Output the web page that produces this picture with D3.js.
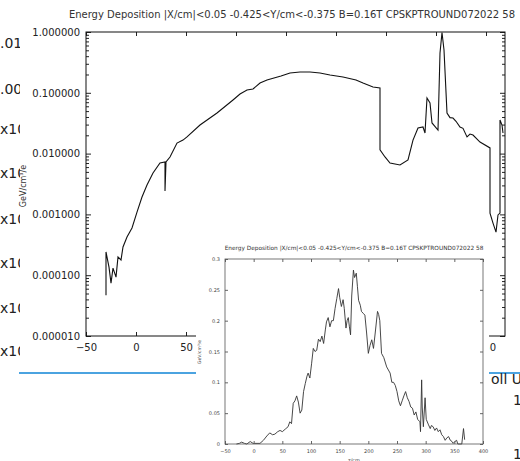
<!DOCTYPE html>
<html>
<head>
<meta charset="utf-8">
<script src="https://cdn.jsdelivr.net/npm/d3@7"></script>
<style>
  body { margin: 0; background: #fff; }
  text { font-family: "DejaVu Sans", sans-serif; }
</style>
</head>
<body>
<script>
// main log plot: z/cm vs deposition
var mainZ = [-30, -30, -27, -25, -23, -20, -18, -15, -13, -9, -4, 1, 6, 11, 17, 24, 29, 29, 30, 34, 41, 47, 51, 64, 81, 97, 104, 111, 117, 124, 131, 145, 154, 164, 174, 184, 194, 207, 220, 227, 237, 244,
	244, 249, 254, 264, 272, 277, 282, 287, 289, 291, 294, 296, 302, 304, 306, 308, 311, 314, 317, 320, 324, 327, 331, 334, 337, 344, 354,
	354, 357, 360, 362, 364, 364, 366, 367];
var mainVal = [4.7e-5, 2.41e-4, 1.36e-4, 7.4e-5, 1.31e-4, 9.3e-5, 2.0e-4, 1.78e-4, 2.91e-4, 4.25e-4, 5.97e-4, 1.09e-3, 1.93e-3, 3.05e-3, 4.8e-3, 7.0e-3, 7.3e-3, 2.43e-3, 7.3e-3, 8.8e-3, 0.0149, 0.0167, 0.0188, 0.0295, 0.0465, 0.0762, 0.0955, 0.111, 0.1155, 0.145, 0.1625, 0.189, 0.212, 0.22, 0.22, 0.212, 0.196, 0.182, 0.1625, 0.145, 0.1245, 0.12,
	0.0115, 0.0088, 0.0070, 0.0065, 0.00785, 0.0167, 0.0264, 0.0274, 0.0218, 0.0821, 0.068, 0.0319, 0.0244, 0.452, 0.98, 0.506, 0.0465, 0.039, 0.0385, 0.034, 0.0274, 0.026, 0.0188, 0.021, 0.0202, 0.0155, 0.0124,
	1.05e-3, 7.2e-4, 5.1e-4, 9.8e-4, 1.05e-3, 0.0357, 0.0295, 0.0218];

var mainYTicks = [1e-5, 1e-4, 1e-3, 1e-2, 1e-1, 1];
var mainXTicks = [-50, 0, 50, 100, 150, 200, 250, 300, 350];

// inset linear plot
var insetZ = [-30, -25, -21, -16, -12, -6, -1, 11, 17, 23, 28, 33, 37, 42, 46, 50, 55, 60, 63, 66, 69, 72, 75, 78, 81, 84, 87, 90, 93, 95, 98, 101, 104, 107, 110, 113, 116, 119, 122, 125, 127, 130, 133, 136, 139, 142, 145, 148, 150, 153, 156, 158, 161, 163, 165, 167, 169, 171, 174, 176, 179, 181, 183, 186, 188, 191, 194, 197, 200, 203, 206, 209, 212, 216, 218, 220, 223, 227, 232, 235, 238, 241, 244, 247, 250, 253, 256, 259, 262, 265, 268, 271, 274, 277, 280, 283, 286, 290, 291, 293, 294, 296, 299, 301, 305, 308, 310, 313, 316, 319, 322, 325, 328, 331, 334, 337, 340, 343, 346, 348, 351, 354, 356, 363, 366, 368];
var insetVal = [0, 0.001, 0.003, 0.001, 0, 0.004, 0.001, 0.001, 0.006, 0.013, 0.018, 0.015, 0.016, 0.02, 0.022, 0.02, 0.024, 0.028, 0.036, 0.033, 0.066, 0.07, 0.078, 0.068, 0.05, 0.055, 0.085, 0.098, 0.11, 0.115, 0.107, 0.13, 0.155, 0.15, 0.152, 0.17, 0.166, 0.175, 0.163, 0.185, 0.198, 0.205, 0.19, 0.2, 0.2, 0.22, 0.236, 0.252, 0.238, 0.223, 0.234, 0.22, 0.188, 0.2, 0.205, 0.19, 0.177, 0.24, 0.282, 0.27, 0.277, 0.255, 0.233, 0.225, 0.215, 0.212, 0.209, 0.18, 0.147, 0.16, 0.169, 0.155, 0.18, 0.215, 0.21, 0.2, 0.147, 0.14, 0.125, 0.12, 0.115, 0.1, 0.1, 0.095, 0.085, 0.07, 0.062, 0.07, 0.078, 0.085, 0.075, 0.069, 0.06, 0.058, 0.047, 0.052, 0.04, 0.036, 0.02, 0.104, 0.06, 0.028, 0.075, 0.04, 0.031, 0.025, 0.03, 0.028, 0.022, 0.026, 0.02, 0.023, 0.015, 0.012, 0.006, 0.01, 0.012, 0.006, 0.004, 0.001, 0.004, 0.006, 0, 0, 0.025, 0.007];

var insetYTicks = [0, 0.05, 0.1, 0.15, 0.2, 0.25, 0.3];
var insetXTicks = [-50, 0, 50, 100, 150, 200, 250, 300, 350, 400];

var titleText = "Energy Deposition |X/cm|<0.05 -0.425<Y/cm<-0.375 B=0.16T CPSKPTROUND072022 58";
var yLabelText = "GeV/cm\u00b3/e";

// bits of the page behind the screenshots
var bgLeftLabels = [".01", ".00", "x10", "x10", "x10", "x10", "x10", "x10"];
var bgLeftY = [48, 94, 134, 178, 224, 268, 313, 356];

var svg = d3.select("body").append("svg")
	.attr("width", 520)
	.attr("height", 461);

svg.append("rect").attr("width", 520).attr("height", 461).attr("fill", "#fff");

svg.append("clipPath").attr("id", "leftclip")
	.append("rect").attr("x", 0).attr("y", 0).attr("width", 20).attr("height", 461);

svg.append("g").attr("clip-path", "url(#leftclip)")
	.selectAll("text")
	.data(bgLeftLabels)
	.enter().append("text")
	.attr("x", 0)
	.attr("y", function (d, i) { return bgLeftY[i]; })
	.attr("font-size", 14)
	.attr("fill", "#222")
	.text(function (d) { return d; });

svg.append("line")
	.attr("x1", 19).attr("x2", 520).attr("y1", 373).attr("y2", 373)
	.attr("stroke", "#4ba3e0").attr("stroke-width", 2);

svg.append("text").attr("x", 491).attr("y", 384).attr("font-size", 14).attr("fill", "#222").text("oll U");
svg.append("text").attr("x", 513).attr("y", 405).attr("font-size", 14).attr("fill", "#222").text("1");
svg.append("text").attr("x", 513).attr("y", 459).attr("font-size", 14).attr("fill", "#222").text("1");

// ---- main chart
var x = d3.scaleLinear().domain([-50, 369]).range([86, 505]);
var y = d3.scaleLog().domain([1e-5, 1]).range([336, 32]);

var minorY = [];
mainYTicks.slice(0, -1).forEach(function (t) {
	for (var k = 2; k <= 9; k++) minorY.push(t * k);
});

var main = svg.append("g").attr("class", "main");

main.append("text")
	.attr("x", 292).attr("y", 18)
	.attr("text-anchor", "middle")
	.attr("font-size", 10)
	.attr("fill", "#333")
	.text(titleText);

main.append("clipPath").attr("id", "plotclip")
	.append("rect").attr("x", 86).attr("y", 32).attr("width", 419).attr("height", 304);

var line = d3.line()
	.x(function (d) { return x(d[0]); })
	.y(function (d) { return y(d[1]); });

main.append("path")
	.datum(mainZ.map(function (z, i) { return [z, mainVal[i]]; }))
	.attr("clip-path", "url(#plotclip)")
	.attr("fill", "none")
	.attr("stroke", "#111")
	.attr("stroke-width", 1.1)
	.attr("d", line);

function styleAxis(g, color) {
	g.select(".domain").remove();
	g.selectAll("line").attr("stroke", color);
	g.selectAll("text").attr("fill", "#222").attr("font-family", "DejaVu Sans");
}

main.append("g")
	.attr("transform", "translate(86,0)")
	.call(d3.axisLeft(y).tickValues(mainYTicks).tickFormat(d3.format(".6f")).tickSize(-5).tickPadding(6))
	.call(function (g) { styleAxis(g, "#222"); g.selectAll("text").attr("font-size", 10); });
main.append("g")
	.attr("transform", "translate(86,0)")
	.call(d3.axisLeft(y).tickValues(minorY).tickFormat("").tickSize(-3))
	.call(function (g) { styleAxis(g, "#222"); });
main.append("g")
	.attr("transform", "translate(505,0)")
	.call(d3.axisRight(y).tickValues(mainYTicks).tickFormat("").tickSize(-5))
	.call(function (g) { styleAxis(g, "#222"); });
main.append("g")
	.attr("transform", "translate(505,0)")
	.call(d3.axisRight(y).tickValues(minorY).tickFormat("").tickSize(-3))
	.call(function (g) { styleAxis(g, "#222"); });
main.append("g")
	.attr("transform", "translate(0,32)")
	.call(d3.axisTop(x).tickValues(mainXTicks).tickFormat("").tickSize(-4))
	.call(function (g) { styleAxis(g, "#222"); });
main.append("g")
	.attr("transform", "translate(0,336)")
	.call(d3.axisBottom(x).tickValues(mainXTicks).tickFormat(d3.format("d")).tickSize(-4).tickPadding(8))
	.call(function (g) { styleAxis(g, "#222"); g.selectAll("text").attr("font-size", 10); });

main.append("rect")
	.attr("x", 86).attr("y", 32).attr("width", 419).attr("height", 304)
	.attr("fill", "none").attr("stroke", "#111").attr("stroke-width", 1);

main.append("text")
	.attr("transform", "translate(26,186) rotate(-90)")
	.attr("text-anchor", "middle")
	.attr("font-size", 8)
	.attr("fill", "#333")
	.text(yLabelText);

// ---- inset chart pasted on top
var xi = d3.scaleLinear().domain([-50, 400]).range([225, 483]);
var yi = d3.scaleLinear().domain([0, 0.3]).range([444, 259]);

var inset = svg.append("g").attr("class", "inset");

inset.append("rect")
	.attr("x", 196).attr("y", 238).attr("width", 293).attr("height", 223)
	.attr("fill", "#fff");

inset.append("text")
	.attr("x", 354).attr("y", 250)
	.attr("text-anchor", "middle")
	.attr("font-size", 5.8)
	.attr("fill", "#333")
	.text(titleText);

var lineIn = d3.line()
	.x(function (d) { return xi(d[0]); })
	.y(function (d) { return yi(d[1]); });

inset.append("path")
	.datum(insetZ.map(function (z, i) { return [z, insetVal[i]]; }))
	.attr("fill", "none")
	.attr("stroke", "#333")
	.attr("stroke-width", 0.9)
	.attr("d", lineIn);

inset.append("g")
	.attr("transform", "translate(225,0)")
	.call(d3.axisLeft(yi).tickValues(insetYTicks).tickFormat(d3.format("")).tickSize(-3).tickPadding(5))
	.call(function (g) { styleAxis(g, "#666"); g.selectAll("text").attr("font-size", 5).attr("fill", "#444"); });
inset.append("g")
	.attr("transform", "translate(483,0)")
	.call(d3.axisRight(yi).tickValues(insetYTicks).tickFormat("").tickSize(-3))
	.call(function (g) { styleAxis(g, "#666"); });
inset.append("g")
	.attr("transform", "translate(0,259)")
	.call(d3.axisTop(xi).tickValues(insetXTicks).tickFormat("").tickSize(-3))
	.call(function (g) { styleAxis(g, "#666"); });
inset.append("g")
	.attr("transform", "translate(0,444)")
	.call(d3.axisBottom(xi).tickValues(insetXTicks).tickFormat(d3.format("d")).tickSize(-3).tickPadding(5))
	.call(function (g) { styleAxis(g, "#666"); g.selectAll("text").attr("font-size", 5).attr("fill", "#444"); });

inset.append("rect")
	.attr("x", 225).attr("y", 259).attr("width", 258).attr("height", 185)
	.attr("fill", "none").attr("stroke", "#555").attr("stroke-width", 0.8);

inset.append("text")
	.attr("transform", "translate(201,352) rotate(-90)")
	.attr("text-anchor", "middle")
	.attr("font-size", 4.6)
	.attr("fill", "#444")
	.text(yLabelText);

inset.append("text")
	.attr("x", 354).attr("y", 462)
	.attr("text-anchor", "middle")
	.attr("font-size", 5)
	.attr("fill", "#444")
	.text("z/cm");
</script>
</body>
</html>
